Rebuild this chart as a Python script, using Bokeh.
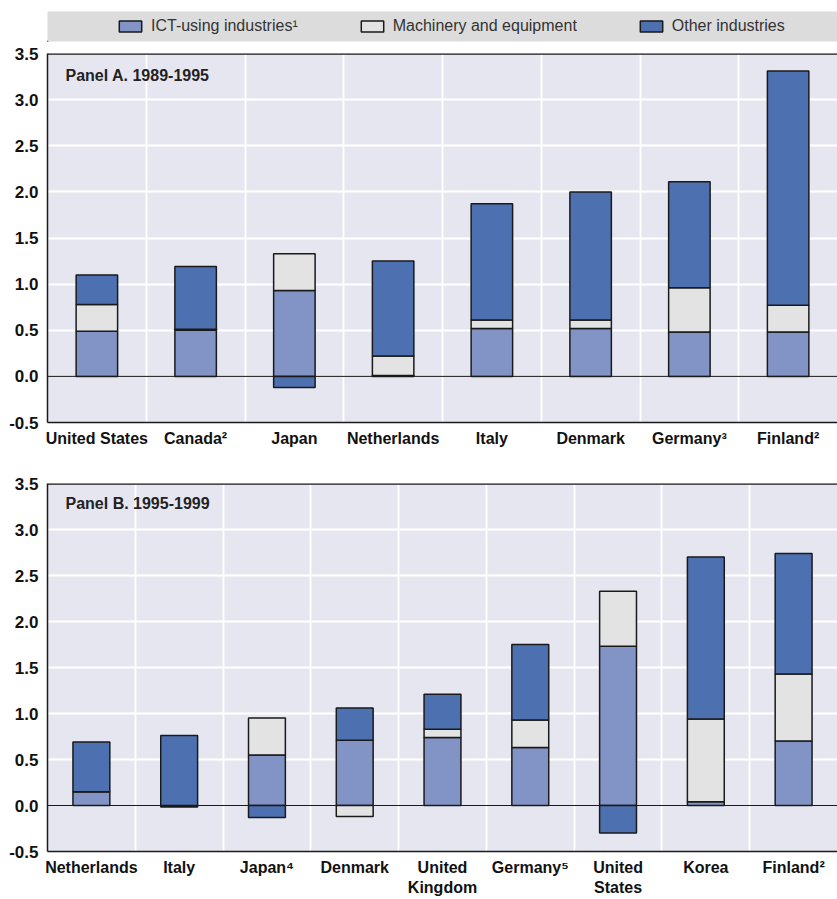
from bokeh.plotting import figure
from bokeh.models import (Range1d, FixedTicker, Span, Label, Legend, LegendItem,
                          ColumnDataSource, NumeralTickFormatter)
from bokeh.layouts import column
from bokeh.embed import file_html
from bokeh.resources import INLINE

# ---------------- data ----------------
series_names = ["ICT-using industries\u00b9", "Machinery and equipment", "Other industries"]

cats_a = ["United States", "Canada\u00b2", "Japan", "Netherlands", "Italy",
          "Denmark", "Germany\u00b3", "Finland\u00b2"]
ict_a = [0.49, 0.50, 0.93, 0.01, 0.52, 0.52, 0.48, 0.48]
mach_a = [0.29, 0.01, 0.40, 0.21, 0.09, 0.09, 0.48, 0.29]
other_a = [0.32, 0.68, -0.12, 1.03, 1.26, 1.39, 1.15, 2.54]

cats_b = ["Netherlands", "Italy", "Japan\u2074", "Denmark", "United\nKingdom",
          "Germany\u2075", "United\nStates", "Korea", "Finland\u00b2"]
ict_b = [0.15, -0.015, 0.55, 0.71, 0.74, 0.63, 1.73, 0.04, 0.70]
mach_b = [0.0, 0.0, 0.40, -0.12, 0.09, 0.30, 0.60, 0.90, 0.73]
other_b = [0.54, 0.76, -0.13, 0.35, 0.38, 0.82, -0.30, 1.76, 1.31]

y_ticks = [-0.5, 0.0, 0.5, 1.0, 1.5, 2.0, 2.5, 3.0, 3.5]

# ---------------- style ----------------
C_ICT = "#8294C6"
C_MACH = "#E3E3E3"
C_OTHER = "#4D71B0"
BG = "#E6E6F1"
BAND = "#DCDCDC"
EDGE = "#1a1a1a"
SANS = "Liberation Sans, Arial, sans-serif"


def stack(series_list):
    n = len(series_list[0])
    pos = [0.0] * n
    neg = [0.0] * n
    out = []
    for s in series_list:
        b, t = [], []
        for i, v in enumerate(s):
            if v >= 0:
                b.append(pos[i]); t.append(pos[i] + v); pos[i] += v
            else:
                t.append(neg[i]); b.append(neg[i] + v); neg[i] += v
        out.append((b, t))
    return out


def make_panel(cats, ict, mach, other, title, height, top_b, bottom_b, tx, ty):
    n = len(cats)
    p = figure(width=837, height=height, x_range=Range1d(0, n), y_range=Range1d(-0.5, 3.5),
               output_backend="svg", toolbar_location=None,
               min_border_left=47, min_border_right=0, min_border_top=top_b,
               min_border_bottom=bottom_b, background_fill_color=BG,
               border_fill_color="white", outline_line_color=None)
    xs = [i + 0.5 for i in range(n)]
    for (b, t), color in zip(stack([ict, mach, other]), [C_ICT, C_MACH, C_OTHER]):
        src = ColumnDataSource(dict(x=xs, bottom=b, top=t))
        p.vbar(x="x", bottom="bottom", top="top", width=0.42, source=src,
               fill_color=color, line_color=EDGE, line_width=1.5)

    # grids
    p.xgrid.ticker = FixedTicker(ticks=list(range(1, n)))
    p.ygrid.ticker = FixedTicker(ticks=[0.5, 1.0, 1.5, 2.0, 2.5, 3.0])
    p.grid.grid_line_color = "white"
    p.grid.grid_line_width = 1.8

    # axes
    p.xaxis.ticker = FixedTicker(ticks=xs)
    p.xaxis.major_label_overrides = {x: c for x, c in zip(xs, cats)}
    p.yaxis.ticker = FixedTicker(ticks=y_ticks)
    p.yaxis.formatter = NumeralTickFormatter(format="0.0")
    for ax in (p.xaxis, p.yaxis):
        ax.axis_line_color = EDGE
        ax.axis_line_width = 1.5
        ax.major_tick_line_color = None
        ax.minor_tick_line_color = None
        ax.major_tick_out = 0
        ax.major_tick_in = 0
        ax.major_label_text_font = SANS
        ax.major_label_text_font_style = "bold"
        ax.major_label_text_color = "#111111"
    p.xaxis.major_label_text_font_size = "16px"
    p.yaxis.major_label_text_font_size = "17px"
    p.xaxis.major_label_standoff = 7
    p.yaxis.major_label_standoff = 9

    p.add_layout(Span(location=0, dimension="width", line_color=EDGE, line_width=1))
    p.add_layout(Span(location=3.5, dimension="width", line_color=EDGE, line_width=2.5))
    p.add_layout(Label(x=tx, y=ty, text=title, text_font=SANS, text_font_style="bold",
                       text_font_size="16px", text_color="#222222", text_baseline="middle"))
    return p


# ---------------- legend band ----------------
lf = figure(width=837, height=42, x_range=Range1d(0, 1), y_range=Range1d(0, 1),
            x_axis_type=None, y_axis_type=None, toolbar_location=None, output_backend="svg",
            min_border_left=46, min_border_right=0, min_border_top=11, min_border_bottom=1,
            background_fill_color=BAND, border_fill_color="white", outline_line_color=None)
items = []
for name, color in zip(series_names, [C_ICT, C_MACH, C_OTHER]):
    # swatch renderers sit outside the visible range; they only feed the legend
    r = lf.vbar(x="x", top="top", width=0.1, source=ColumnDataSource(dict(x=[-5], top=[-5])),
                fill_color=color, line_color=EDGE, line_width=1.5)
    items.append(LegendItem(label=name, renderers=[r]))
legend = Legend(items=items, location="center_left", orientation="horizontal", margin=69,
                padding=0, spacing=60, glyph_width=28, glyph_height=14, label_standoff=7,
                label_text_font=SANS, label_text_font_size="16px", label_text_color="#333333",
                background_fill_alpha=0, border_line_color=None)
lf.add_layout(legend, "center")

pa = make_panel(cats_a, ict_a, mach_a, other_a, "Panel A. 1989-1995", 423, 11, 43, 0.182, 3.26)
pb = make_panel(cats_b, ict_b, mach_b, other_b, "Panel B. 1995-1999", 434, 18, 48, 0.205, 3.28)

layout = column(lf, pa, pb, spacing=0)
open("out.html", "w").write(file_html(layout, INLINE))
